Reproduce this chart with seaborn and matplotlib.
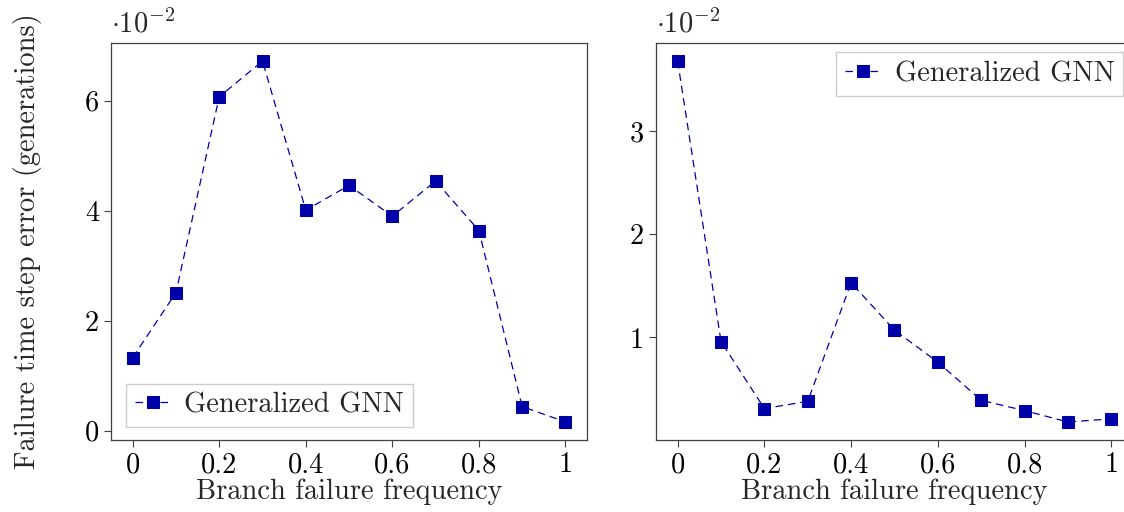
import numpy as np
import pandas as pd
import matplotlib
matplotlib.use("Agg")
import matplotlib.pyplot as plt
import seaborn as sns

freq = [0.0, 0.1, 0.2, 0.3, 0.4, 0.5, 0.6, 0.7, 0.8, 0.9, 1.0]
err_left = [0.0133, 0.0251, 0.0607, 0.0672, 0.0401, 0.0446, 0.0390, 0.0454, 0.0364, 0.0044, 0.0016]
err_right = [0.0368, 0.0096, 0.0031, 0.0038, 0.0153, 0.0107, 0.0076, 0.0039, 0.0029, 0.0018, 0.0021]
series_name = "Generalized GNN"
xticks = [0, 0.2, 0.4, 0.6, 0.8, 1.0]
xtick_labels = ["0", "0.2", "0.4", "0.6", "0.8", "1"]
yticks_left = [0, 0.02, 0.04, 0.06]
yticks_right = [0.01, 0.02, 0.03]

sns.set_style("white")
plt.rcParams["font.family"] = ["cmr10", "DejaVu Serif"]
plt.rcParams["mathtext.fontset"] = "cm"
plt.rcParams["axes.unicode_minus"] = False
plt.rcParams["axes.edgecolor"] = "#404040"
plt.rcParams["axes.linewidth"] = 0.9
plt.rcParams["xtick.bottom"] = True
plt.rcParams["ytick.left"] = True
plt.rcParams["xtick.major.size"] = 5
plt.rcParams["ytick.major.size"] = 5
plt.rcParams["xtick.color"] = "#404040"
plt.rcParams["ytick.color"] = "#404040"
plt.rcParams["xtick.labelcolor"] = "black"
plt.rcParams["ytick.labelcolor"] = "black"

color = "#0000A8"
fs = 20.5

fig = plt.figure(figsize=(11.24, 5.12), dpi=100)
ax1 = fig.add_axes([0.0988, 0.1406, 0.4235, 0.7754])
ax2 = fig.add_axes([0.5836, 0.1406, 0.4244, 0.7754])

df_left = pd.DataFrame({"freq": freq, "err": err_left})
df_right = pd.DataFrame({"freq": freq, "err": err_right})

for ax, df, yt in [(ax1, df_left, yticks_left), (ax2, df_right, yticks_right)]:
    sns.lineplot(data=df, x="freq", y="err", ax=ax, color=color, marker="s",
                 markersize=8.5, markeredgecolor=color, linewidth=0.9,
                 dashes=False, label=series_name)
    ax.lines[0].set_dashes((6, 4))
    ax.set_xticks(xticks, xtick_labels)
    ax.set_yticks(yt, [f"{v * 100:g}" for v in yt])
    ax.tick_params(labelsize=fs)
    ax.set_xlabel("Branch failure frequency", fontsize=fs, labelpad=0)
    ax.set_ylabel("")
    ax.text(0.0, 1.012, r"$\cdot 10^{-2}$", transform=ax.transAxes,
            ha="left", va="bottom", fontsize=fs)
    ax.margins(x=0.05, y=0.05)

ax1.set_ylabel("Failure time step error (generations)", fontsize=fs, labelpad=31)

leg_kw = dict(fontsize=fs, frameon=True, fancybox=False, edgecolor="#cccccc",
              borderaxespad=0, handlelength=1.3, handletextpad=0.45,
              borderpad=0.3, framealpha=1)
ax1.legend(loc="lower left", bbox_to_anchor=(0.0315, 0.033), **leg_kw)
ax2.legend(loc="upper right", bbox_to_anchor=(0.979, 0.977), **leg_kw)

plt.savefig("out.png", dpi=100)
